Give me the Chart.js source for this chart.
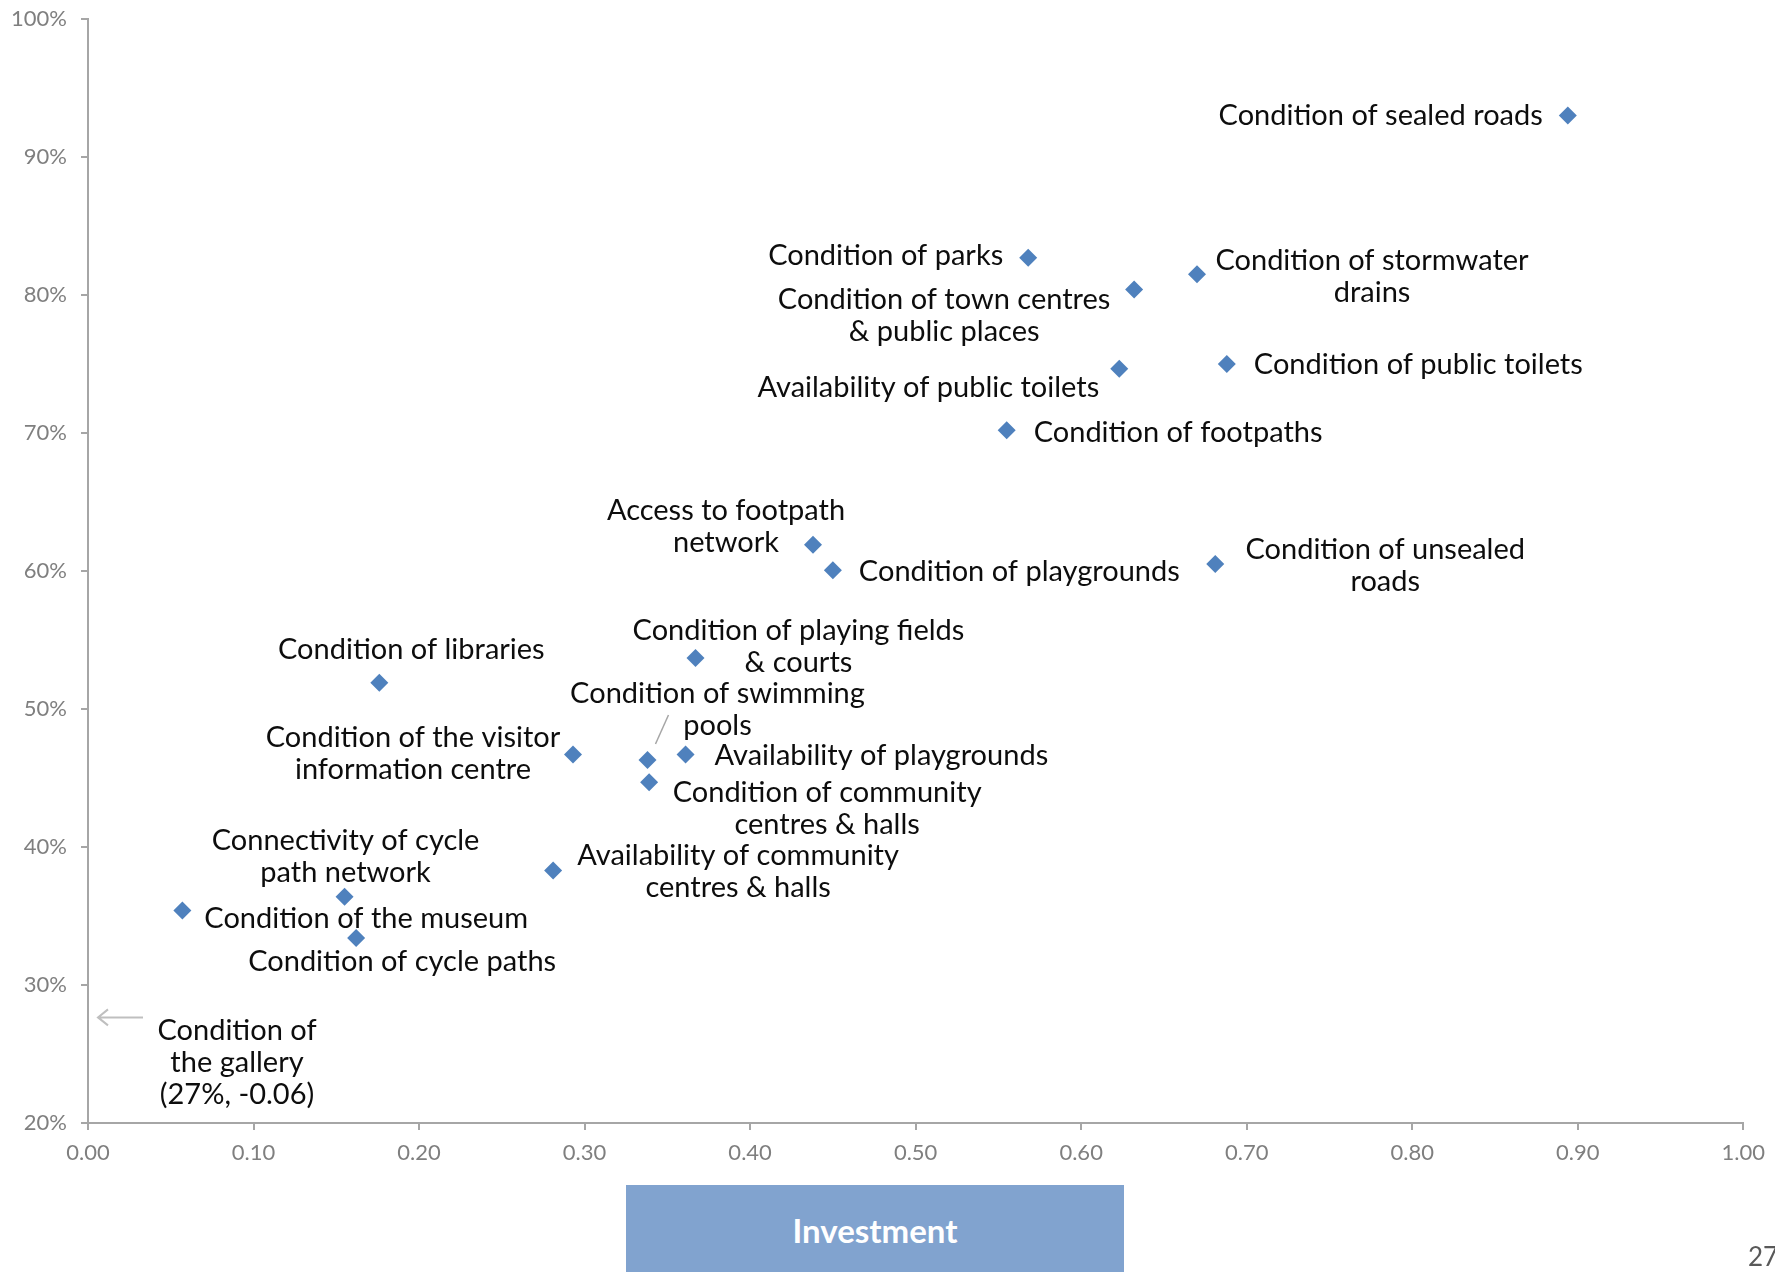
<!DOCTYPE html>
<html>
<head>
<meta charset="utf-8">
<script src="https://cdn.jsdelivr.net/npm/chart.js@4"></script>
<style>
  body { margin: 0; background: #fff; }
  #wrap { position: relative; width: 1775px; height: 1272px; overflow: hidden; }
  #investment {
    position: absolute; left: 626px; top: 1185px; width: 498px; height: 90px;
    background: #81A3CF; color: #fff; font: bold 33px Lato, sans-serif;
    display: flex; align-items: center; justify-content: center; padding-bottom: 0;
  }
  #page { position: absolute; left: 1748px; top: 1240px; font: 26px Lato, sans-serif; color: #595959; }
</style>
</head>
<body>
<div id="wrap">
  <canvas id="myChart" width="1775" height="1272"></canvas>
  <div id="investment">Investment</div>
  <div id="page">27</div>
</div>
<script>
const FONT = 'Lato, sans-serif';

const categories = [
  'Condition of sealed roads',
  'Condition of parks',
  'Condition of stormwater\ndrains',
  'Condition of town centres\n& public places',
  'Availability of public toilets',
  'Condition of public toilets',
  'Condition of footpaths',
  'Access to footpath\nnetwork',
  'Condition of playgrounds',
  'Condition of unsealed\nroads',
  'Condition of playing fields\n& courts',
  'Condition of libraries',
  'Condition of the visitor\ninformation centre',
  'Condition of swimming\npools',
  'Availability of playgrounds',
  'Condition of community\ncentres & halls',
  'Availability of community\ncentres & halls',
  'Connectivity of cycle\npath network',
  'Condition of the museum',
  'Condition of cycle paths',
  'Condition of\nthe gallery'
];

// investment index (x)
const investment = [0.894, 0.568, 0.670, 0.632, 0.623, 0.688, 0.555, 0.438, 0.450, 0.681,
  0.367, 0.176, 0.293, 0.338, 0.361, 0.339, 0.281, 0.155, 0.057, 0.162, -0.06];

// satisfaction share (y)
const satisfaction = [0.930, 0.827, 0.815, 0.804, 0.7465, 0.750, 0.702, 0.619, 0.6005, 0.605,
  0.537, 0.519, 0.467, 0.463, 0.467, 0.447, 0.383, 0.364, 0.354, 0.334, 0.27];

const xTicks = [0, 0.1, 0.2, 0.3, 0.4, 0.5, 0.6, 0.7, 0.8, 0.9, 1.0];
const yTicks = [0.2, 0.3, 0.4, 0.5, 0.6, 0.7, 0.8, 0.9, 1.0];

// where each label sits relative to its marker (pixels)
const placement = [
  { align: 'right', dx: -25, dy: 0 },
  { align: 'right', dx: -25, dy: -2 },
  { align: 'center', dx: 175, dy: 2 },
  { align: 'center', dx: -190, dy: 26 },
  { align: 'right', dx: -20, dy: 19 },
  { align: 'left', dx: 27, dy: 1 },
  { align: 'left', dx: 27, dy: 2 },
  { align: 'center', dx: -87, dy: -18 },
  { align: 'left', dx: 26, dy: 1 },
  { align: 'center', dx: 170, dy: 2 },
  { align: 'center', dx: 103, dy: -11 },
  { align: 'center', dx: 32, dy: -33 },
  { align: 'center', dx: -160, dy: -1 },
  { align: 'center', dx: 70, dy: -50, leader: [8, -16, 21, -45] },
  { align: 'left', dx: 29, dy: 1 },
  { align: 'center', dx: 178, dy: 27 },
  { align: 'center', dx: 185, dy: 1 },
  { align: 'center', dx: 1, dy: -40 },
  { align: 'left', dx: 22, dy: 8 },
  { align: 'center', dx: 46, dy: 24 },
  { align: 'center', dx: 149, dy: 36, offscale: true }
];

const LABEL_SIZE = 29;
const LINE = 32;

const labelPlugin = {
  id: 'pointLabels',
  afterDatasetsDraw(chart) {
    const ctx = chart.ctx;
    const xs = chart.scales.x, ys = chart.scales.y;
    ctx.save();
    ctx.font = LABEL_SIZE + 'px ' + FONT;
    ctx.fillStyle = '#0d0d0d';
    ctx.textBaseline = 'middle';
    categories.forEach((name, i) => {
      const p = placement[i];
      let lines = name.split('\n');
      let px = xs.getPixelForValue(investment[i]);
      const py = ys.getPixelForValue(satisfaction[i]);
      if (p.offscale) {
        px = xs.left;
        lines = lines.concat('(' + Math.round(satisfaction[i] * 100) + '%, ' + investment[i].toFixed(2) + ')');
        // arrow pointing off the chart
        const ay = py - 9;
        ctx.save();
        ctx.strokeStyle = '#BFBFBF';
        ctx.lineWidth = 2;
        ctx.beginPath();
        ctx.moveTo(px + 55, ay);
        ctx.lineTo(px + 10, ay);
        ctx.moveTo(px + 20, ay - 8);
        ctx.lineTo(px + 10, ay);
        ctx.lineTo(px + 20, ay + 8);
        ctx.stroke();
        ctx.restore();
      }
      ctx.textAlign = p.align;
      const top = py + p.dy - (lines.length - 1) * LINE / 2;
      lines.forEach((l, k) => ctx.fillText(l, px + p.dx, top + k * LINE));
      if (p.leader) {
        ctx.save();
        ctx.strokeStyle = '#A6A6A6';
        ctx.lineWidth = 1.5;
        ctx.beginPath();
        ctx.moveTo(px + p.leader[0], py + p.leader[1]);
        ctx.lineTo(px + p.leader[2], py + p.leader[3]);
        ctx.stroke();
        ctx.restore();
      }
    });
    ctx.restore();
  }
};

const ctx = document.getElementById('myChart');

const myChart = new Chart(ctx, {
  type: 'scatter',
  data: {
    datasets: [{
      label: 'Services',
      data: investment.map((x, i) => ({ x: x, y: satisfaction[i] })),
      backgroundColor: '#4F81BD',
      borderWidth: 0,
      pointStyle: 'rectRot',
      pointRadius: 9,
      pointHoverRadius: 9
    }]
  },
  options: {
    responsive: false,
    animation: false,
    events: [],
    layout: { padding: { left: 0, top: 19, right: 30, bottom: 0 } },
    plugins: { legend: { display: false }, tooltip: { enabled: false } },
    scales: {
      x: {
        type: 'linear',
        min: 0,
        max: 1,
        afterBuildTicks: (s) => { s.ticks = xTicks.map(v => ({ value: v })); },
        afterFit: (s) => { s.height = 149; },
        ticks: {
          callback: (v) => Number(v).toFixed(2),
          color: '#7F7F7F',
          font: { family: FONT, size: 22 },
          padding: 10,
          maxRotation: 0
        },
        grid: { drawOnChartArea: false, drawTicks: true, tickLength: 7, color: '#A6A6A6', lineWidth: 2 },
        border: { color: '#A6A6A6', width: 2 }
      },
      y: {
        min: 0.2,
        max: 1,
        afterBuildTicks: (s) => { s.ticks = yTicks.map(v => ({ value: v })); },
        afterFit: (s) => { s.width = 88; s.paddingTop = 0; s.paddingBottom = 0; },
        ticks: {
          callback: (v) => Math.round(v * 100) + '%',
          color: '#7F7F7F',
          font: { family: FONT, size: 22 },
          padding: 14
        },
        grid: { drawOnChartArea: false, drawTicks: true, tickLength: 7, color: '#A6A6A6', lineWidth: 2 },
        border: { color: '#A6A6A6', width: 2 }
      }
    }
  },
  plugins: [labelPlugin]
});
</script>
</body>
</html>
